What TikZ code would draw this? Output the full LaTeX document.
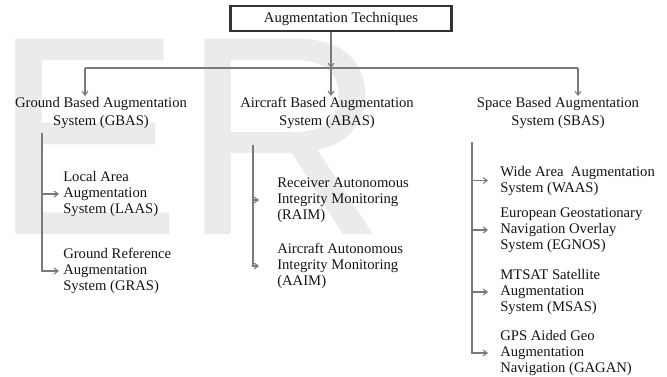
\documentclass[tikz,border=0pt]{standalone}
\usepackage{fontspec}
\setmainfont{Liberation Serif}
\newfontfamily\marcafont{Liberation Sans}
\usepackage{xcolor}
\usepackage{tikz}
\usetikzlibrary{arrows.meta,positioning}
\definecolor{gris}{HTML}{7A7A7A}
\definecolor{grisoscuro}{HTML}{333333}
\definecolor{texto}{HTML}{141414}
\definecolor{fondo}{HTML}{EBEBEB}
\tikzset{
  caja/.style={draw=grisoscuro,line width=1.8pt,fill=white,minimum width=166pt,minimum height=18.5pt,font=\fontsize{11}{12}\selectfont,text=texto,inner sep=2pt},
  grupo/.style={align=center,font=\fontsize{11}{13}\selectfont,text=texto,inner sep=1pt},
  hoja/.style={align=left,anchor=west,font=\fontsize{11}{12}\selectfont,text=texto,inner ysep=1pt,inner xsep=#1},
  hoja/.default=3pt,
  linea/.style={draw=gris,line width=0.8pt},
  flecha/.style={linea,-{Straight Barb[length=3pt,width=4.5pt]}},
  marca/.style={text=fondo,font=\marcafont\fontsize{213}{213}\selectfont,inner sep=0pt,anchor=base west},
}

\begin{document}
\begin{tikzpicture}[x=0.75pt,y=-0.75pt]
  \useasboundingbox (0,0) rectangle (667,377);
  \node[marca] (marca) at (-8,235) {ER};
  \node[caja] (raiz) at (341,18.5) {Augmentation Techniques};
  \node[grupo] (gbas) at (101,113) {Ground Based Augmentation\\System (GBAS)};
  \node[grupo] (abas) at (327,113) {Aircraft Based Augmentation\\System (ABAS)};
  \node[grupo] (sbas) at (558,113) {Space Based Augmentation\\System (SBAS)};
  \node[hoja] (laas) at (59,194) {Local Area\\Augmentation\\System (LAAS)};
  \node[hoja] (gras) at (59,271) {Ground Reference\\Augmentation\\System (GRAS)};
  \node[hoja=13.5pt] (raim) at (259,200) {Receiver Autonomous\\Integrity Monitoring\\(RAIM)};
  \node[hoja=13.5pt] (aaim) at (259,266) {Aircraft Autonomous\\Integrity Monitoring\\(AAIM)};
  \node[hoja=9pt] (waas) at (488,180.5) {Wide Area~ Augmentation\\System (WAAS)};
  \node[hoja=9pt] (egnos) at (488,230) {European Geostationary\\Navigation Overlay\\System (EGNOS)};
  \node[hoja=9pt] (msas) at (488,292) {MTSAT Satellite\\Augmentation\\System (MSAS)};
  \node[hoja=9pt] (gagan) at (488,353) {GPS Aided Geo\\Augmentation\\Navigation (GAGAN)};
  \coordinate (bus) at (331,68);
  \coordinate (izq) at (85,68);
  \coordinate (der) at (578,68);
  \coordinate (g0) at (42,133);
  \coordinate (a0) at (253,145);
  \coordinate (s0) at (472,142);
  \draw[flecha] (bus |- raiz.south) -- (bus);
  \draw[linea] (izq) -- (der);
  \draw[flecha] (izq) -- (izq |- gbas.north);
  \draw[flecha] (bus) -- (bus |- abas.north);
  \draw[flecha] (der) -- (der |- sbas.north);
  \draw[flecha] (g0) |- (laas.west);
  \draw[flecha] (g0) |- (gras.west);
  \draw[flecha] (a0) |- (raim.west);
  \draw[flecha] (a0) |- (aaim.west);
  \draw[flecha] (s0) |- (waas.west);
  \draw[flecha] (s0) |- (egnos.west);
  \draw[flecha] (s0) |- (msas.west);
  \draw[flecha] (s0) |- (gagan.west);
\end{tikzpicture}
\end{document}
